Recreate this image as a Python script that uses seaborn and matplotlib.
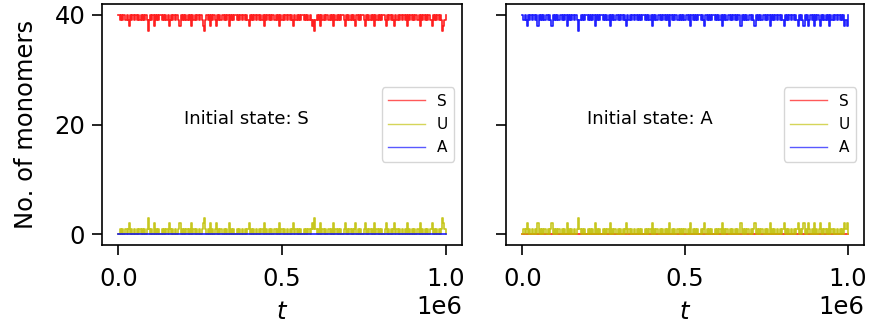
import numpy as np
import matplotlib
matplotlib.use("Agg")
import matplotlib.pyplot as plt
import seaborn as sns

# ---------------- data ----------------
species = ["S", "U", "A"]
colors = ["red", "y", "blue"]
panel_titles = ["Initial state: S", "Initial state: A"]

# Left panel: initial state S
left_S = [
    40, 39, 40, 39, 40, 40, 39, 40, 39, 38, 40, 39, 40, 39, 40, 40, 39, 40, 39, 40,
    39, 40, 39, 40, 39, 37, 39, 40, 39, 40, 38, 40, 39, 40, 39, 40, 40, 39, 40, 39,
    40, 39, 40, 38, 39, 40, 39, 40, 39, 40, 40, 39, 38, 40, 39, 40, 39, 40, 39, 40,
    39, 40, 38, 40, 39, 40, 39, 40, 40, 39, 40, 39, 38, 37, 39, 40, 39, 40, 38, 40,
    39, 40, 39, 38, 40, 39, 40, 39, 40, 40, 39, 40, 39, 40, 38, 40, 39, 40, 39, 40,
    40, 39, 40, 39, 40, 39, 40, 40, 39, 40, 39, 38, 40, 39, 40, 39, 40, 39, 40, 40,
    39, 40, 39, 40, 38, 40, 39, 40, 39, 40, 39, 40, 40, 39, 40, 39, 40, 38, 40, 39,
    40, 39, 40, 40, 39, 40, 39, 40, 39, 38, 40, 39, 40, 39, 40, 39, 40, 40, 39, 40,
    39, 40, 39, 40, 39, 38, 39, 37, 39, 40, 39, 40, 38, 40, 39, 40, 39, 40, 40, 39,
    40, 39, 40, 38, 40, 39, 40, 39, 40, 39, 40, 40, 39, 38, 40, 39, 40, 39, 40, 39,
    40, 39, 38, 40, 39, 40, 39, 40, 40, 39, 38, 40, 39, 40, 39, 40, 39, 40, 38, 40,
    39, 40, 39, 40, 39, 40, 40, 39, 38, 40, 39, 40, 39, 40, 39, 38, 40, 39, 40, 39,
    40, 40, 39, 40, 39, 40, 38, 40, 39, 40, 39, 40, 39, 40, 40, 39, 40, 38, 40, 39,
    40, 39, 40, 39, 40, 40, 39, 38, 40, 39, 40, 39, 40, 39, 40, 39, 37, 38, 39, 40,
]
left_U = [
    0, 1, 0, 1, 0, 0, 1, 0, 1, 2, 0, 1, 0, 1, 0, 0, 1, 0, 1, 0,
    1, 0, 1, 0, 1, 3, 1, 0, 1, 0, 2, 0, 1, 0, 1, 0, 0, 1, 0, 1,
    0, 1, 0, 2, 1, 0, 1, 0, 1, 0, 0, 1, 2, 0, 1, 0, 1, 0, 1, 0,
    1, 0, 2, 0, 1, 0, 1, 0, 0, 1, 0, 1, 2, 3, 1, 0, 1, 0, 2, 0,
    1, 0, 1, 2, 0, 1, 0, 1, 0, 0, 1, 0, 1, 0, 2, 0, 1, 0, 1, 0,
    0, 1, 0, 1, 0, 1, 0, 0, 1, 0, 1, 2, 0, 1, 0, 1, 0, 1, 0, 0,
    1, 0, 1, 0, 2, 0, 1, 0, 1, 0, 1, 0, 0, 1, 0, 1, 0, 2, 0, 1,
    0, 1, 0, 0, 1, 0, 1, 0, 1, 2, 0, 1, 0, 1, 0, 1, 0, 0, 1, 0,
    1, 0, 1, 0, 1, 2, 1, 3, 1, 0, 1, 0, 2, 0, 1, 0, 1, 0, 0, 1,
    0, 1, 0, 2, 0, 1, 0, 1, 0, 1, 0, 0, 1, 2, 0, 1, 0, 1, 0, 1,
    0, 1, 2, 0, 1, 0, 1, 0, 0, 1, 2, 0, 1, 0, 1, 0, 1, 0, 2, 0,
    1, 0, 1, 0, 1, 0, 0, 1, 2, 0, 1, 0, 1, 0, 1, 2, 0, 1, 0, 1,
    0, 0, 1, 0, 1, 0, 2, 0, 1, 0, 1, 0, 1, 0, 0, 1, 0, 2, 0, 1,
    0, 1, 0, 1, 0, 0, 1, 2, 0, 1, 0, 1, 0, 1, 0, 1, 3, 2, 1, 0,
]
left_A = [0] * 280

# Right panel: initial state A
right_S = [0] * 280
right_A = [
    40, 39, 40, 39, 38, 40, 39, 40, 39, 40, 40, 39, 40, 38, 40, 39, 40, 39, 40, 39,
    40, 40, 39, 40, 39, 38, 40, 39, 40, 39, 40, 39, 40, 40, 39, 40, 39, 40, 38, 40,
    39, 40, 39, 40, 39, 40, 40, 39, 37, 39, 40, 39, 40, 39, 40, 40, 39, 40, 39, 40,
    39, 40, 38, 40, 39, 40, 39, 40, 40, 39, 40, 39, 40, 39, 40, 38, 40, 39, 40, 39,
    40, 40, 39, 40, 39, 40, 39, 40, 39, 38, 40, 39, 40, 39, 40, 40, 39, 40, 39, 40,
    39, 40, 39, 40, 40, 39, 40, 39, 40, 39, 40, 38, 40, 39, 40, 39, 40, 40, 39, 40,
    39, 40, 39, 40, 39, 40, 38, 40, 39, 40, 39, 40, 40, 39, 40, 39, 40, 39, 40, 39,
    40, 40, 39, 40, 38, 40, 39, 40, 39, 40, 39, 40, 40, 39, 40, 39, 38, 40, 39, 40,
    39, 40, 39, 40, 40, 39, 40, 39, 40, 39, 40, 38, 40, 39, 40, 39, 40, 40, 39, 40,
    39, 40, 39, 40, 39, 40, 40, 38, 40, 39, 40, 39, 40, 39, 40, 40, 39, 40, 39, 38,
    40, 39, 40, 39, 40, 39, 40, 40, 39, 40, 39, 40, 38, 40, 39, 40, 39, 40, 39, 40,
    40, 39, 40, 39, 38, 40, 39, 40, 39, 40, 39, 40, 40, 39, 40, 39, 38, 40, 39, 40,
    39, 38, 40, 39, 40, 38, 39, 40, 39, 40, 38, 40, 39, 40, 39, 38, 40, 39, 40, 39,
    40, 39, 40, 38, 40, 39, 40, 39, 40, 40, 39, 40, 39, 40, 39, 40, 38, 39, 38, 40,
]
right_U = [
    0, 1, 0, 1, 2, 0, 1, 0, 1, 0, 0, 1, 0, 2, 0, 1, 0, 1, 0, 1,
    0, 0, 1, 0, 1, 2, 0, 1, 0, 1, 0, 1, 0, 0, 1, 0, 1, 0, 2, 0,
    1, 0, 1, 0, 1, 0, 0, 1, 3, 1, 0, 1, 0, 1, 0, 0, 1, 0, 1, 0,
    1, 0, 2, 0, 1, 0, 1, 0, 0, 1, 0, 1, 0, 1, 0, 2, 0, 1, 0, 1,
    0, 0, 1, 0, 1, 0, 1, 0, 1, 2, 0, 1, 0, 1, 0, 0, 1, 0, 1, 0,
    1, 0, 1, 0, 0, 1, 0, 1, 0, 1, 0, 2, 0, 1, 0, 1, 0, 0, 1, 0,
    1, 0, 1, 0, 1, 0, 2, 0, 1, 0, 1, 0, 0, 1, 0, 1, 0, 1, 0, 1,
    0, 0, 1, 0, 2, 0, 1, 0, 1, 0, 1, 0, 0, 1, 0, 1, 2, 0, 1, 0,
    1, 0, 1, 0, 0, 1, 0, 1, 0, 1, 0, 2, 0, 1, 0, 1, 0, 0, 1, 0,
    1, 0, 1, 0, 1, 0, 0, 2, 0, 1, 0, 1, 0, 1, 0, 0, 1, 0, 1, 2,
    0, 1, 0, 1, 0, 1, 0, 0, 1, 0, 1, 0, 2, 0, 1, 0, 1, 0, 1, 0,
    0, 1, 0, 1, 2, 0, 1, 0, 1, 0, 1, 0, 0, 1, 0, 1, 2, 0, 1, 0,
    1, 2, 0, 1, 0, 2, 1, 0, 1, 0, 2, 0, 1, 0, 1, 2, 0, 1, 0, 1,
    0, 1, 0, 2, 0, 1, 0, 1, 0, 0, 1, 0, 1, 0, 1, 0, 2, 1, 2, 0,
]

t_end = 1e6
panels = [
    (left_S, left_U, left_A),
    (right_S, right_U, right_A),
]

# ---------------- figure ----------------
plt.rcParams["font.family"] = ["DejaVu Sans"]
fig = plt.figure(figsize=(8.73, 3.26), dpi=100)
W, H = 873, 326
ax1 = fig.add_axes([102 / W, 1 - 245 / H, 360 / W, 241 / H])
ax2 = fig.add_axes([506 / W, 1 - 245 / H, 358 / W, 241 / H], sharey=ax1)
axes = [ax1, ax2]

for ax, series, title in zip(axes, panels, panel_titles):
    for vals, name, col in zip(series, species, colors):
        t = np.linspace(0, t_end, len(vals))
        sns.lineplot(x=t, y=vals, color=col, alpha=0.88, lw=1.2,
                     label=name, ax=ax, estimator=None,
                     drawstyle="steps-post")
    ax.text(0.2e6, 21, title, fontsize=13, va="center", ha="left")
    leg = ax.legend(loc="center right", fontsize=11, handlelength=2.4,
                    labelspacing=0.55, framealpha=0.8)
    for h in leg.get_lines():
        h.set_alpha(0.65)
        h.set_linewidth(1.0)
    ax.set_xlabel("$t$", fontsize=17.5, labelpad=6)
    ax.set_xticks([0, 0.5e6, 1e6])
    ax.tick_params(labelsize=17.5, length=7, width=1.2)
    ax.tick_params(axis="x", pad=9)
    ax.tick_params(axis="y", pad=5)
    ax.xaxis.get_offset_text().set_fontsize(17.5)
    for sp in ax.spines.values():
        sp.set_linewidth(1.2)

ax1.set_yticks([0, 20, 40])
ax1.set_ylabel("No. of monomers", fontsize=17.5, labelpad=12)
ax2.tick_params(labelleft=False)
ax2.set_ylabel("")

fig.savefig("out.png", dpi=100)
